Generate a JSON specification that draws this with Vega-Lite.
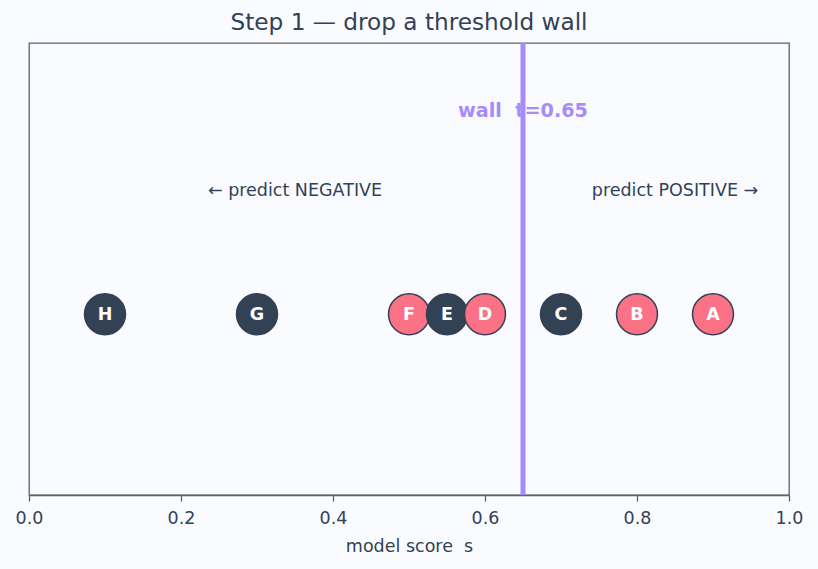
{
  "$schema": "https://vega.github.io/schema/vega-lite/v6.json",
  "width": 760,
  "height": 452,
  "autosize": {"type": "none"},
  "padding": {"left": 29, "top": 43, "right": 29, "bottom": 74},
  "background": "#fafbff",
  "title": {"text": "Step 1 — drop a threshold wall", "font": "DejaVu Sans", "fontSize": 23.2, "fontWeight": "normal", "color": "#334155", "offset": 5},
  "config": {
    "view": {"stroke": "#5b6170", "strokeWidth": 1.3, "fill": "#fafbff"},
    "font": "DejaVu Sans"
  },
  "datasets": {
    "pts": [
      {"s": 0.1, "y": 0, "label": "H", "cls": "neg"},
      {"s": 0.3, "y": 0, "label": "G", "cls": "neg"},
      {"s": 0.5, "y": 0, "label": "F", "cls": "pos"},
      {"s": 0.55, "y": 0, "label": "E", "cls": "neg"},
      {"s": 0.6, "y": 0, "label": "D", "cls": "pos"},
      {"s": 0.7, "y": 0, "label": "C", "cls": "neg"},
      {"s": 0.8, "y": 0, "label": "B", "cls": "pos"},
      {"s": 0.9, "y": 0, "label": "A", "cls": "pos"}
    ],
    "notes": [
      {"s": 0.35, "y": 0.68, "text": "← predict NEGATIVE"},
      {"s": 0.85, "y": 0.68, "text": "predict POSITIVE →"}
    ],
    "wall": [{"s": 0.65, "y": 1.125, "text": "wall \u00a0t=0.65"}]
  },
  "layer": [
    {
      "data": {"name": "notes"},
      "mark": {"type": "text", "fontSize": 17.5, "color": "#334155", "baseline": "middle", "align": "center"},
      "encoding": {
        "x": {"field": "s", "type": "quantitative", "scale": {"domain": [0, 1], "nice": false},
          "axis": {"title": "model score \u00a0s", "values": [0, 0.2, 0.4, 0.6, 0.8, 1.0], "format": ".1f", "grid": false,
            "labelFontSize": 17.5, "titleFontSize": 17.5, "titleFontWeight": "normal", "labelColor": "#334155", "titleColor": "#334155",
            "domainColor": "#5b6170", "tickColor": "#5b6170", "tickSize": 6, "tickWidth": 1.3, "domainWidth": 1.3, "labelPadding": 8, "titlePadding": 11, "labelFlush": false}},
        "y": {"field": "y", "type": "quantitative", "scale": {"domain": [-1, 1.5], "nice": false}, "axis": null},
        "text": {"field": "text"}
      }
    },
    {
      "data": {"name": "wall"},
      "mark": {"type": "text", "fontSize": 19.2, "fontWeight": "bold", "color": "#a78bfa", "baseline": "middle", "align": "center"},
      "encoding": {
        "x": {"field": "s", "type": "quantitative"},
        "y": {"field": "y", "type": "quantitative"},
        "text": {"field": "text"}
      }
    },
    {
      "data": {"name": "wall"},
      "mark": {"type": "rule", "color": "#a78bfa", "strokeWidth": 5},
      "encoding": {
        "x": {"field": "s", "type": "quantitative"}
      }
    },
    {
      "data": {"name": "pts"},
      "mark": {"type": "point", "filled": true, "size": 1680, "shape": "circle", "stroke": "#334155", "strokeWidth": 1.5, "opacity": 1},
      "encoding": {
        "x": {"field": "s", "type": "quantitative"},
        "y": {"field": "y", "type": "quantitative"},
        "fill": {"field": "cls", "type": "nominal", "scale": {"domain": ["neg", "pos"], "range": ["#334155", "#fb7185"]}, "legend": null}
      }
    },
    {
      "data": {"name": "pts"},
      "mark": {"type": "text", "fontSize": 17.5, "fontWeight": "bold", "color": "white", "baseline": "middle", "align": "center", "dy": 1},
      "encoding": {
        "x": {"field": "s", "type": "quantitative"},
        "y": {"field": "y", "type": "quantitative"},
        "text": {"field": "label"}
      }
    }
  ]
}
